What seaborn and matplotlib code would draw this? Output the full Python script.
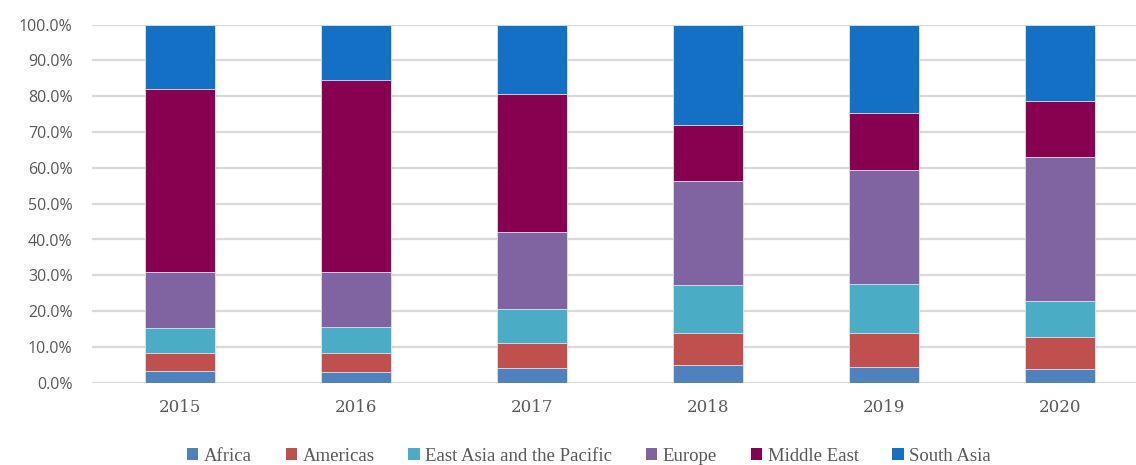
import numpy as np
import pandas as pd
import matplotlib
matplotlib.use("Agg")
import matplotlib.pyplot as plt
import seaborn as sns
from matplotlib.patches import Patch
from matplotlib.ticker import FuncFormatter

years = ["2015", "2016", "2017", "2018", "2019", "2020"]
regions = ["Africa", "Americas", "East Asia and the Pacific", "Europe", "Middle East", "South Asia"]
africa = [3.4, 2.9, 4.2, 4.9, 4.3, 3.7]
americas = [4.9, 5.3, 6.9, 8.9, 9.6, 9.0]
east_asia = [7.0, 7.3, 9.4, 13.4, 13.6, 10.1]
europe = [15.6, 15.4, 21.6, 29.1, 31.9, 40.2]
middle_east = [51.2, 53.7, 38.5, 15.7, 16.0, 15.8]
south_asia = [17.9, 15.4, 19.4, 28.0, 24.6, 21.2]
colors = ["#4F81BD", "#C0504D", "#4BACC6", "#8064A2", "#880050", "#1370C4"]

series = [africa, americas, east_asia, europe, middle_east, south_asia]
vals = np.array(series, dtype=float)
vals = vals / vals.sum(axis=0) * 100.0
cum = np.cumsum(vals, axis=0)

sns.set_theme(style="white")
plt.rcParams["font.family"] = ["DejaVu Sans"]

fig = plt.figure(figsize=(11.36, 4.65), dpi=100)
ax = fig.add_axes([92/1136, 1-382.7/465, 1-92/1136, (382.7-24.7)/465])

for i in range(len(regions) - 1, -1, -1):
    df = pd.DataFrame({"year": years, "value": cum[i]})
    sns.barplot(data=df, x="year", y="value", color=colors[i], width=0.4,
                saturation=1, ax=ax, edgecolor="#dde6f2", linewidth=0.6, zorder=3)

ax.set_ylim(0, 100)
ax.set_xlim(-0.5, 5.5 - 12/176)
ax.set_yticks(np.arange(0, 101, 10))
ax.yaxis.set_major_formatter(FuncFormatter(lambda v, p: f"{v:.1f}%"))
ax.grid(axis="y", color="#d9d9d9", linewidth=1.6, zorder=0)
ax.set_axisbelow(True)
for s in ax.spines.values():
    s.set_visible(False)
ax.set_xlabel("")
ax.set_ylabel("")
ax.tick_params(axis="y", length=0, pad=14, labelsize=11.5, labelcolor="#595959")
ax.tick_params(axis="x", length=0, pad=12, labelsize=12, labelcolor="#595959")
for t in ax.get_yticklabels():
    t.set_fontfamily("Open Sans")
for t in ax.get_xticklabels():
    t.set_fontfamily("DejaVu Serif")

handles = [Patch(facecolor=c, edgecolor="none") for c in colors]
leg = fig.legend(handles, regions, loc="center", bbox_to_anchor=(589/1136, 1-456/465),
                 ncol=6, frameon=False, handlelength=0.6, handleheight=0.6,
                 handletextpad=0.3, columnspacing=1.8,
                 prop={"family": "Liberation Serif", "size": 13.5})
for t in leg.get_texts():
    t.set_color("#595959")

fig.savefig("out.png", dpi=100)
